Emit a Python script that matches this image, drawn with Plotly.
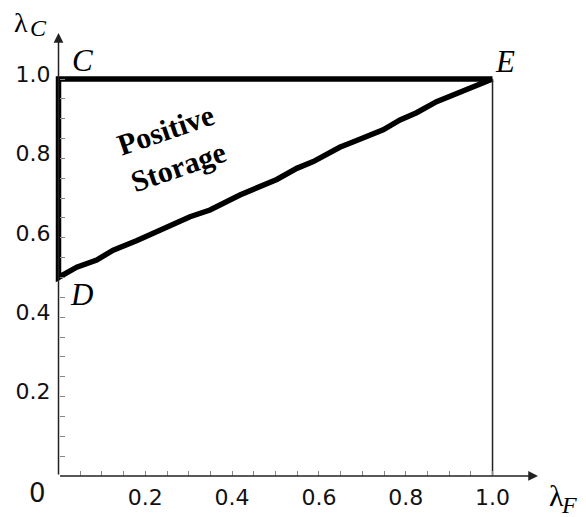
import plotly.graph_objects as go

# ---- data ----
point_C = (0.0, 1.0)
point_D = (0.0, 0.5)
point_E = (1.0, 1.0)

curve_x = [0.0, 0.042, 0.088, 0.126, 0.181, 0.250, 0.303, 0.349, 0.418, 0.503,
           0.549, 0.587, 0.648, 0.687, 0.748, 0.787, 0.825, 0.871, 0.917, 1.0]
curve_y = [0.5, 0.526, 0.544, 0.569, 0.593, 0.625, 0.653, 0.670, 0.708, 0.747,
           0.775, 0.792, 0.828, 0.845, 0.872, 0.897, 0.915, 0.943, 0.964, 1.0]

tick_vals = [0.05, 0.1, 0.15, 0.2, 0.25, 0.3, 0.35, 0.4, 0.45, 0.5,
             0.55, 0.6, 0.65, 0.7, 0.75, 0.8, 0.85, 0.9, 0.95, 1.0]
tick_labels = {0.2: "0.2", 0.4: "0.4", 0.6: "0.6", 0.8: "0.8", 1.0: "1.0"}
tick_text = [tick_labels.get(v, "") for v in tick_vals]

xr = [-0.0196, 1.1048]
yr = [-0.0101, 1.1159]

fig = go.Figure()

# thick boundary: E -> C -> D -> curve -> E
bx = [point_E[0], point_C[0]] + curve_x
by = [point_E[1], point_C[1]] + curve_y
fig.add_trace(go.Scatter(x=bx, y=by, mode="lines",
                         line=dict(color="black", width=5.5),
                         hoverinfo="skip", showlegend=False))

# thin vertical line at lambda_F = 1
fig.add_trace(go.Scatter(x=[point_E[0], point_E[0]], y=[0, point_E[1]], mode="lines",
                         line=dict(color="#222", width=1.5),
                         hoverinfo="skip", showlegend=False))

tickfont = dict(family="DejaVu Sans", size=22, color="#111")

# the page body adds an 8px offset, so the figure is 8px smaller and margins shifted
fig.update_layout(
    width=578, height=509,
    margin=dict(l=42, r=48, t=25, b=37, autoexpand=False),
    paper_bgcolor="white", plot_bgcolor="white",
    xaxis=dict(range=xr, showgrid=False, zeroline=False, showline=False,
               ticks="inside", ticklen=5, tickwidth=1, tickcolor="#888",
               tickvals=tick_vals, ticktext=tick_text, tickfont=tickfont,
               anchor="free", position=(0 - yr[0]) / (yr[1] - yr[0]),
               ticklabelstandoff=6, automargin=False),
    yaxis=dict(range=yr, showgrid=False, zeroline=False, showline=False,
               ticks="inside", ticklen=5, tickwidth=1, tickcolor="#888",
               tickvals=tick_vals, ticktext=tick_text, tickfont=tickfont,
               anchor="free", position=(0 - xr[0]) / (xr[1] - xr[0]),
               ticklabelshift=-5, ticklabelstandoff=8, automargin=False),
)

ann = []
# axes with arrows
ann.append(dict(x=xr[1], y=0, ax=0, ay=0, xref="x", yref="y", axref="x", ayref="y",
                showarrow=True, arrowhead=2, arrowsize=1.3, arrowwidth=1.5,
                arrowcolor="#222", text=""))
ann.append(dict(x=0, y=yr[1], ax=0, ay=0, xref="x", yref="y", axref="x", ayref="y",
                showarrow=True, arrowhead=2, arrowsize=1.3, arrowwidth=1.5,
                arrowcolor="#222", text=""))
# origin label
ann.append(dict(x=0, y=0, xref="x", yref="y", text="0", showarrow=False,
                xshift=-21, yshift=-17, font=dict(family="DejaVu Sans", size=26, color="#111")))
# point labels
lab_font = dict(family="Liberation Serif", size=31, color="black")
ann.append(dict(x=point_C[0], y=point_C[1], text="<i>C</i>", showarrow=False,
                xshift=24, yshift=19, font=lab_font))
ann.append(dict(x=point_E[0], y=point_E[1], text="<i>E</i>", showarrow=False,
                xshift=12, yshift=18, font=lab_font))
ann.append(dict(x=point_D[0], y=point_D[1], text="<i>D</i>", showarrow=False,
                xshift=23, yshift=-17, font=lab_font))
# region label
ann.append(dict(x=0.262, y=0.826, text="<b>Positive<br>Storage</b>", showarrow=False,
                textangle=-19, font=dict(family="Liberation Serif", size=30, color="black")))
# axis titles
ann.append(dict(x=0, y=yr[1], text="λ", showarrow=False, xshift=-38, yshift=11,
                font=dict(family="Liberation Serif", size=28, color="black")))
ann.append(dict(x=0, y=yr[1], text="<i>C</i>", showarrow=False, xshift=-20, yshift=5,
                font=dict(family="Liberation Serif", size=24, color="black")))
ann.append(dict(x=xr[1], y=0, text="λ", showarrow=False, xshift=18, yshift=-20,
                font=dict(family="Liberation Serif", size=30, color="black")))
ann.append(dict(x=xr[1], y=0, text="<i>F</i>", showarrow=False, xshift=31, yshift=-29,
                font=dict(family="Liberation Serif", size=24, color="black")))
fig.update_layout(annotations=ann)

fig.write_html("out.html")
